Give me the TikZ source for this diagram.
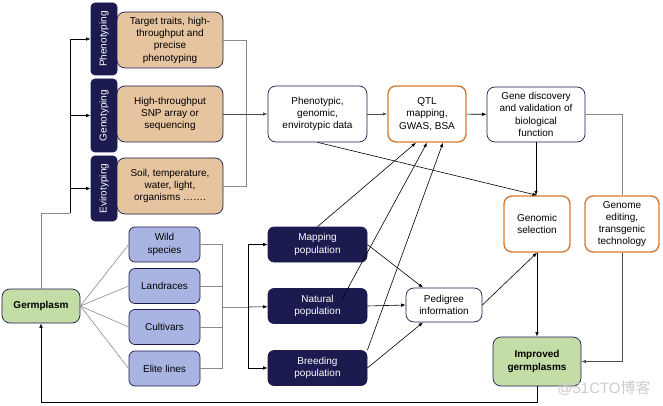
\documentclass[tikz,border=0pt]{standalone}
\usepackage{fontspec}
\setmainfont{Liberation Sans}
\newfontfamily\cjkfont{Noto Sans CJK SC}
\usetikzlibrary{arrows.meta}
\definecolor{boxnavy}{HTML}{1B1B50}
\definecolor{boxtan}{HTML}{E6C49F}
\definecolor{boxblue}{HTML}{AAB4E2}
\definecolor{boxgreen}{HTML}{C4DCA6}
\definecolor{boxorange}{HTML}{D57B32}
\definecolor{linegrey}{HTML}{8A8A8A}

\begin{document}
\begin{tikzpicture}[x=1pt,y=-1pt,
		every node/.style={font=\fontsize{10}{12.3}\selectfont,align=center,inner sep=1pt},
		box/.style={rectangle,rounded corners=6pt,draw=boxnavy,line width=0.7pt},
		side/.style={box,fill=boxnavy,text=white,rotate=90,minimum height=26pt,rounded corners=4pt},
		tanbox/.style={box,fill=boxtan,minimum width=106pt,minimum height=56pt,rounded corners=8pt},
		whitebox/.style={box,fill=white,rounded corners=8pt},
		orangebox/.style={box,draw=boxorange,line width=1.4pt,fill=white,rounded corners=8pt},
		srcbox/.style={box,fill=boxblue,minimum width=71pt,minimum height=35pt},
		popbox/.style={box,fill=boxnavy,text=white,minimum width=99pt,minimum height=35pt},
		greenbox/.style={box,fill=boxgreen,rounded corners=8pt,font=\fontsize{10}{12.3}\selectfont\bfseries},
		gline/.style={draw=linegrey,line width=0.6pt},
		arr/.style={draw=black,line width=0.6pt,-{Latex[length=4.5pt,width=3.5pt]}},
		garr/.style={draw=black!70,line width=0.8pt,-{Latex[length=4.5pt,width=3.5pt]}}]
		\useasboundingbox (0,0) rectangle (663,406);
		
		\newcommand{\omics}[4]{\node[side,minimum width=#3pt] (s#1) at (104,#2) {#4};}
		
		\omics{pheno}{39}{72}{Phenotyping}
		\omics{geno}{115.5}{73}{Genotyping}
		\omics{eviro}{188.5}{65}{Evirotyping}
		
		\node[tanbox] (tpheno) at (170,40) {Target traits, high-\\throughput and\\precise\\phenotyping};
		\node[tanbox] (tgeno) at (170,114) {High-throughput\\SNP array or\\sequencing};
		\node[tanbox] (teviro) at (170,186) {Soil, temperature,\\water, light,\\organisms …….};
		
		\node[whitebox,minimum width=99pt,minimum height=56pt] (pdata) at (317.5,114) {Phenotypic,\\genomic,\\envirotypic data};
		\node[orangebox,minimum width=78pt,minimum height=56pt] (qtl) at (427,114) {QTL\\mapping,\\GWAS, BSA};
		\node[whitebox,minimum width=98pt,minimum height=55pt] (gene) at (536,114.5) {Gene discovery\\and validation of\\biological\\function};
		\node[orangebox,minimum width=66pt,minimum height=56pt] (gensel) at (537,224) {Genomic\\selection};
		\node[orangebox,minimum width=74pt,minimum height=56pt] (genedit) at (622,224) {Genome\\editing,\\transgenic\\technology};
		
		\node[greenbox,minimum width=78pt,minimum height=34pt] (germ) at (41,306) {Germplasm};
		\node[srcbox] (wild) at (164.5,244.5) {Wild\\species};
		\node[srcbox] (land) at (164.5,286) {Landraces};
		\node[srcbox] (cult) at (164.5,327) {Cultivars};
		\node[srcbox] (elite) at (164.5,368.5) {Elite lines};
		
		\node[popbox] (mapping) at (317.5,244.5) {Mapping\\population};
		\node[popbox] (natural) at (317.5,306) {Natural\\population};
		\node[popbox] (breeding) at (317.5,368) {Breeding\\population};
		\node[whitebox,minimum width=76pt,minimum height=34pt] (ped) at (444,305) {Pedigree\\information};
		\node[greenbox,minimum width=88pt,minimum height=49pt] (improved) at (537,361.5) {Improved\\germplasms};
		
		\node[text=black!20,font=\fontsize{15}{17}\selectfont] (mark) at (604,388) {@51CTO{\cjkfont 博客}};
		
		\coordinate (lb) at (70,213);
		\coordinate (rb) at (246,114);
		\coordinate (sb) at (222,307);
		\coordinate (pb) at (248,307);
		\coordinate (bot) at (41,402);
		
		\draw[gline] (germ.north) |- (lb);
		\draw[arr] (lb) |- (spheno);
		\draw[arr] (lb) |- (sgeno);
		\draw[arr] (lb) |- (seviro);
		
		\draw[gline] (tpheno.east) -| (rb);
		\draw[gline] (teviro.east) -| (rb);
		\draw[garr] (tgeno.east) -- (pdata.west);
		\draw[garr] (pdata) -- (qtl);
		\draw[arr] (qtl) -- (gene);
		\draw[arr] (gene) -- (gene |- gensel.north);
		\draw[gline] (gene.east) -| (genedit.north);
		\draw[arr] (pdata.south) -- (gensel.north);
		
		\foreach \src in {wild,land,cult,elite}
			\draw[gline] (germ.east) -- (\src.west);
		\foreach \src in {wild,land,cult,elite}
			\draw[gline] (\src.east) -| (sb);
		\draw[gline] (sb) -- (pb);
		\draw[arr] (pb) |- (mapping);
		\draw[arr] (pb) -- (natural);
		\draw[arr] (pb) |- (breeding);
		
		\draw[arr] (mapping.north) -- ([xshift=-11pt]qtl.south);
		\draw[arr] ([xshift=24pt,yshift=6pt]natural.center) -- (qtl.south);
		\draw[arr] (breeding.north east) -- ([xshift=16pt]qtl.south);
		\draw[arr] (mapping.east) -- ([xshift=-21pt]ped.north);
		\draw[arr] (natural.east) -- (ped.west);
		\draw[arr] (breeding.east) -- ([xshift=-21pt]ped.south);
		\draw[arr] (ped.east) -- (gensel.south);
		\draw[arr] (gensel.south) -- (improved.north);
		\draw[garr] (genedit.south) |- (improved.east);
		\draw[arr] (improved.south) |- (bot) -- (germ.south);
	\end{tikzpicture}
\end{document}
